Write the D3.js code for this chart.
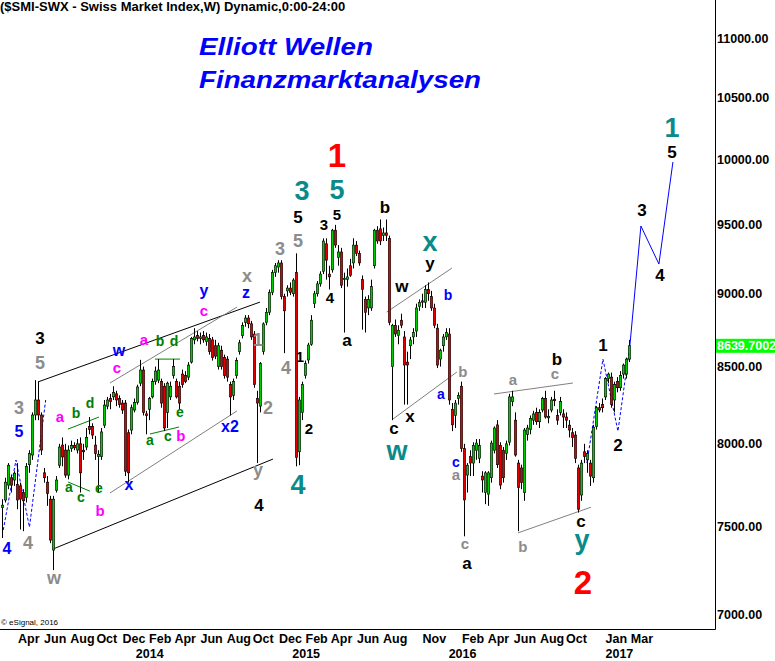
<!DOCTYPE html>
<html><head><meta charset="utf-8">
<script src="https://cdn.jsdelivr.net/npm/d3@7"></script>
<style>
body{margin:0;background:#fff}
svg{display:block}
text{font-family:"Liberation Sans",Arial,Helvetica,sans-serif}
</style>
</head><body>
<svg id="chart" width="775" height="661"></svg>
<script>
// ---------------- DATA ----------------
const firstWeek = "2013-02-25";            // Monday of the first weekly candle
// weekly candles [open, high, low, close]
const ohlc2013 = [
[7610,7660,7430,7624],[7655,7790,7640,7763],[7745,7880,7720,7867],[7790,7810,7700,7745],[7776,7830,7740,7818],
[7750,7880,7600,7655],[7740,7760,7480,7660],[7700,7720,7470,7650],[7670,7880,7640,7860],[7870,7960,7820,7940],
[7930,8200,7900,8183],[8183,8410,8150,8280],[8280,8400,8150,8183],[8183,8200,7930,7961],[7820,7850,7760,7790],
[7763,7800,7620,7695],[7660,7680,7400,7418],[7360,7680,7245,7660],[7714,7800,7700,7776],[7867,8000,7850,7980],
[7992,8040,7860,7918],[7961,8000,7790,7806],[7806,7990,7780,7961],[7970,8020,7950,7990],[7990,8010,7960,7975],
[7961,8030,7940,8000],[8000,8040,7700,7820],[7960,8000,7900,7950],[7980,8100,7960,8040],[8110,8170,8060,8090],
[8110,8130,8030,8055],[7992,8050,7900,7940],[7920,7960,7700,7935],[7920,8100,7900,8075],[8118,8280,8100,8247],
[8240,8300,8220,8280],[8290,8320,8220,8270],[8300,8370,8280,8330],[8320,8340,8240,8280],[8290,8310,8230,8250],
[8260,8280,8190,8215],[8260,8280,7800,7830],[8070,8090,7760,7820],[8087,8250,8060,8230],[8215,8290,8200,8265]
];
const ohlc2014 = [
[8265,8380,8250,8365],[8390,8545,8370,8477],[8477,8500,8180,8200],[8190,8210,8060,8180],[8220,8300,8150,8290],
[8300,8420,8290,8400],[8400,8500,8380,8470],[8410,8550,8390,8477],[8400,8420,8230,8260],[8370,8390,8080,8100],
[8200,8400,8100,8390],[8300,8400,8280,8370],[8440,8550,8420,8500],[8400,8420,8290,8300],[8370,8400,8220,8260],
[8450,8480,8360,8380],[8440,8470,8390,8400],[8430,8530,8410,8510],[8530,8700,8520,8690],[8680,8760,8650,8700],
[8710,8740,8670,8690],[8690,8730,8650,8700],[8710,8740,8660,8680],[8670,8730,8640,8700],[8690,8720,8580,8600],
[8680,8700,8540,8560],[8640,8680,8550,8570],[8500,8660,8480,8640],[8610,8640,8480,8500],[8560,8580,8420,8440],
[8550,8570,8400,8430],[8380,8400,8180,8300],[8310,8420,8280,8400],[8440,8560,8420,8540],[8600,8680,8580,8660],
[8710,8800,8690,8780],[8800,8850,8770,8830],[8830,8850,8760,8790],[8790,8810,8680,8700],[8720,8740,8360,8380],
[8290,8340,7880,8260],[8240,8530,8200,8520],[8600,8800,8580,8790],[8800,8900,8780,8870],[8870,9030,8850,9010],
[9010,9170,8990,9150],[9150,9220,9120,9200],[9190,9240,9150,9220],[9220,9240,8960,8980],[8980,9000,8590,8880],
[9020,9060,8980,9040],[9040,9080,8990,9010]
];
const ohlc2015 = [
[9000,9110,8980,9097],[9150,9290,7860,7915],[7950,8300,7867,8280],[8200,8400,8150,8380],[8440,8540,8420,8520],
[8544,8660,8520,8645],[8650,8850,8640,8815],[8930,9020,8900,9000],[9000,9090,8980,9070],[9070,9160,9050,9140],
[9160,9400,9140,9380],[9360,9400,9100,9240],[9140,9200,9030,9120],[9170,9470,9150,9460],[9460,9500,9330,9350],
[9260,9350,9200,9300],[9300,9330,9040,9060],[9100,9150,8730,9110],[9100,9180,9050,9120],[9200,9250,9120,9130],
[9220,9400,9180,9350],[9350,9380,9270,9290],[9290,9310,9200,9220],[9100,9130,8750,9030],[8960,8980,8730,8870],
[8900,8990,8850,8960],[8900,9100,8880,9050],[9200,9470,9180,9460],[9460,9490,9360,9380],[9470,9540,9350,9380],
[9420,9480,9380,9440],[9440,9540,9380,9420],[9400,9420,8780,8800],[8500,8790,8150,8780],[8780,8820,8700,8720],
[8710,8780,8650,8746],[8815,8860,8760,8780],[8700,8740,8250,8510],[8530,8600,8250,8510],[8640,8700,8550,8680],
[8700,8760,8650,8730],[8740,8930,8700,8900],[8910,8960,8880,8940],[8950,9000,8900,8940],[8940,9060,8900,9030],
[9030,9080,8950,9000],[8980,9020,8880,8900],[8900,8930,8760,8780],[8760,8790,8490,8510],[8550,8620,8500,8610],
[8640,8720,8600,8700],[8700,8760,8680,8730]
];
const ohlc2016 = [
[8720,8760,8250,8280],[8220,8260,8080,8120],[8180,8280,8100,8260],[8290,8330,8250,8310],[8370,8400,7950,7970],
[7970,8000,7440,7655],[7806,7880,7700,7867],[7920,7960,7800,7880],[7880,8010,7800,7990],[7960,8030,7900,8005],
[7910,8030,7880,7990],[7800,7830,7700,7776],[7700,7830,7630,7820],[7690,7830,7620,7820],[7790,8020,7760,8005],
[7960,8110,7940,8100],[8120,8150,7850,7870],[7990,8010,7720,7745],[7960,7980,7760,7790],[7940,8020,7900,8000],
[8010,8320,7990,8300],[8270,8340,8240,8300],[8150,8200,7920,7930],[7880,7900,7470,7730],[7850,7870,7720,7760],
[7700,8100,7650,8087],[8060,8120,8020,8100],[8090,8180,8060,8160],[8150,8210,8120,8190],[8200,8230,8120,8140],
[8140,8220,8100,8200],[8215,8300,8200,8290],[8290,8340,8160,8170],[8165,8220,8130,8175],[8215,8300,8200,8280],
[8285,8340,8240,8275],[8180,8220,8120,8150],[8200,8300,8180,8270],[8190,8220,8100,8170],[8170,8200,8100,8150],
[8118,8150,8040,8087],[8070,8100,7980,8040],[8055,8080,7880,7910],[7850,7870,7580,7600],[7685,7900,7650,7880],
[7950,8000,7880,7920],[7900,7960,7820,7940],[7880,7900,7740,7800],[7790,8120,7760,8105],[8110,8240,8090,8230],
[8230,8260,8200,8215],[8250,8290,8200,8230]
];
const ohlc2017 = [
[8300,8430,8280,8420],[8420,8460,8390,8450],[8430,8460,8230,8250],[8280,8400,8200,8380],[8400,8430,8330,8360],
[8360,8470,8340,8440],[8450,8520,8420,8510],[8450,8560,8420,8550],[8550,8680,8530,8640]
];
const lastPrice = 8639.7002;

const priceTicks = [7000,7500,8000,8500,9000,9500,10000,10500,11000];
const monthTicks = ["2013-04-01","2013-06-01","2013-08-01","2013-10-01","2013-12-01","2014-02-01","2014-04-01","2014-06-01","2014-08-01","2014-10-01","2014-12-01","2015-02-01","2015-04-01","2015-06-01","2015-08-01","2015-11-01","2016-02-01","2016-04-01","2016-06-01","2016-08-01","2016-10-01","2017-01-01","2017-03-01"];
const monthLabels = ["Apr","Jun","Aug","Oct","Dec","Feb","Apr","Jun","Aug","Oct","Dec","Feb","Apr","Jun","Aug","Nov","Feb","Apr","Jun","Aug","Oct","Jan","Mar"];
const yearTicks = ["2014-01-01","2015-01-01","2016-01-01","2017-01-01"];
const yearLabels = ["2014","2015","2016","2017"];

// trend / channel lines: [week1, price1, week2, price2]
const blackLines = [[11.83,8398,85.83,8941],[16.83,7366,90.17,7905]];
const grayLines = [[35.83,8391,78.17,8906],[35.83,7697,78.17,8209],[128.06,8871,149.83,9183],[130.17,8157,151.5,8464],[163.83,8319,190.17,8391],[171.83,7460,196.17,7612]];
const greenLines = [[21.83,8093,32.17,8170],[21.83,7764,29.17,7708],[50.83,8550,59.17,8550],[49.17,8062,58.83,8106]];
// blue wave sketches
const sketchWeeks = [0.27,4.5,9.0,14.4];
const sketchPrices = [7477,7899,7494,8280];
const forecastWeeks = [194.83,200.17,205.17,209.17,212.83,218.83,223.5];
const forecastPrices = [7880,8550,8080,8645,9491,9212,9980];

// wave labels: [week, price, text, degree]
const waveLabels = [
[12.5,8692,"3","minor"],[12.5,8530,"5","minute"],[5.5,8234,"3","minute"],[5.5,8080,"5","minuette"],
[1.5,7372,"4","minuette"],[8.5,7401,"4","minute"],[17.17,7194,"w","minute"],
[19.17,8164,"a","sub"],[24.5,8196,"b","micro"],[29.17,8260,"d","micro"],[22.17,7727,"a","micro"],
[26.17,7667,"c","micro"],[32.17,7721,"e","micro"],[32.5,7594,"b","sub"],[42.17,7739,"x","minuette"],
[38.83,8598,"w","minuette"],[38.17,8484,"c","sub"],[47.17,8672,"a","sub"],[52.5,8672,"b","micro"],
[57.17,8672,"d","micro"],[49.17,8017,"a","micro"],[55.17,8042,"c","micro"],[59.5,8049,"b","sub"],
[59.17,8196,"e","micro"],[67.17,9005,"y","minuette"],[67.17,8871,"c","sub"],[81.5,9119,"x","minute"],
[81.17,8997,"z","minuette"],[85.17,8679,"1","minute"],[94.5,8497,"4","minute"],[88.5,8234,"2","minute"],
[75.83,8112,"x2","minuette"],[85.17,7818,"y","minute"],[85.5,7624,"4","minor"],[98.5,7751,"4","inter"],
[99.17,8564,"1","minorSm"],[102.17,8099,"2","minorSm"],[92.5,9328,"3","minute"],[98.5,9387,"5","minute"],
[98.5,9558,"5","minor"],[99.83,9763,"3","inter"],[111.5,9771,"5","inter"],[111.5,10035,"1","primary"],
[107.17,9498,"3","minorSm"],[111.5,9573,"5","minorSm"],[109.17,8976,"4","minorSm"],[114.83,8672,"a","minor"],
[127.5,9634,"b","minor"],[142.5,9357,"x","inter"],[142.5,9197,"y","minor"],[133.17,9047,"w","minor"],
[148.5,8990,"b","minuetteSm"],[135.83,8170,"x","minor"],[130.5,8093,"c","minor"],[131.5,7942,"w","inter"],
[153.5,8464,"b","minuteSm"],[146.17,8313,"a","minuetteSm"],[151.17,7880,"c","minuetteSm"],[151.17,7800,"a","minuteSm"],
[154.17,7389,"c","minuteSm"],[154.83,7279,"a","minor"],[170.17,8405,"a","minuteSm"],[184.17,8444,"c","minuteSm"],
[184.83,8550,"b","minor"],[173.5,7383,"b","minuteSm"],[192.83,7524,"c","minor"],[193.17,7389,"y","inter"],
[193.5,7177,"2","primary"],[200.17,8645,"1","minor"],[205.17,7992,"2","minor"],[213.17,9611,"3","minor"],
[219.17,9133,"4","minor"],[223.17,10058,"5","minor"],[223.17,10258,"1","inter"]
];

// ---------------- STYLE ----------------
const degreeStyle = {
  primary:{color:"#ff0000",size:33},
  inter:{color:"#0b8a8a",size:27},
  minor:{color:"#000000",size:17},
  minorSm:{color:"#000000",size:15},
  minute:{color:"#8c8c8c",size:18},
  minuteSm:{color:"#8c8c8c",size:15},
  minuette:{color:"#0000ff",size:16},
  minuetteSm:{color:"#0000ff",size:14},
  sub:{color:"#ff00ff",size:15},
  micro:{color:"#008000",size:14}
};
const UP = "#00cc00", DOWN = "#e00000";

// ---------------- CHART ----------------
const svg = d3.select("#chart");
const candles = [...ohlc2013,...ohlc2014,...ohlc2015,...ohlc2016,...ohlc2017];
const t0 = d3.timeParse("%Y-%m-%d")(firstWeek).getTime();
const weekDate = w => new Date(t0 + w*7*864e5);
const parse = d3.timeParse("%Y-%m-%d");

const x = d3.scaleTime().domain([new Date(2013,0,1), new Date(2017,0,1)]).range([-21.1, 605]);
const y = d3.scaleLog().domain([7000, 11000]).range([614, 38]);
const wx = w => x(weekDate(w));

// frame
svg.append("line").attr("x1",715.5).attr("x2",715.5).attr("y1",0).attr("y2",629.5).attr("stroke","#000");
svg.append("line").attr("x1",0).attr("x2",715.5).attr("y1",629.5).attr("y2",629.5).attr("stroke","#000");

// title
svg.append("text").attr("x",0).attr("y",10.5).attr("font-size",13).attr("font-weight","bold")
  .text("($SMI-SWX - Swiss Market Index,W) Dynamic,0:00-24:00");
svg.append("text").attr("x",199).attr("y",55).attr("font-size",24).attr("font-weight","bold")
  .attr("font-style","italic").attr("fill","#0000ff").attr("textLength",174).attr("lengthAdjust","spacingAndGlyphs")
  .text("Elliott Wellen");
svg.append("text").attr("x",199).attr("y",88).attr("font-size",24).attr("font-weight","bold")
  .attr("font-style","italic").attr("fill","#0000ff").attr("textLength",282).attr("lengthAdjust","spacingAndGlyphs")
  .text("Finanzmarktanalysen");
svg.append("text").attr("x",1).attr("y",625).attr("font-size",8).text("\u00a9 eSignal, 2016");

// lines
const lineGroup = svg.append("g");
function drawSegs(rows, color){
  lineGroup.selectAll(null).data(rows).enter().append("line")
    .attr("x1",d=>wx(d[0])).attr("y1",d=>y(d[1])).attr("x2",d=>wx(d[2])).attr("y2",d=>y(d[3]))
    .attr("stroke",color).attr("stroke-width",1);
}
drawSegs(blackLines,"#000");
drawSegs(grayLines,"#808080");
drawSegs(greenLines,"#008000");

const lineGen = d3.line().x(d=>wx(d[0])).y(d=>y(d[1]));
lineGroup.append("path").datum(sketchWeeks.map((w,i)=>[w,sketchPrices[i]]))
  .attr("d",lineGen).attr("fill","none").attr("stroke","#0000ff").attr("stroke-dasharray","3,2");
const fc = forecastWeeks.map((w,i)=>[w,forecastPrices[i]]);
lineGroup.append("path").datum(fc.slice(0,4)).attr("d",lineGen).attr("fill","none")
  .attr("stroke","#0000ff").attr("stroke-dasharray","3,2");
lineGroup.append("path").datum(fc.slice(3)).attr("d",lineGen).attr("fill","none").attr("stroke","#0000ff");

// candles
const cg = svg.append("g");
const cs = cg.selectAll("g").data(candles).enter().append("g");
cs.append("line")
  .attr("x1",(d,i)=>Math.round(wx(i))+0.5).attr("x2",(d,i)=>Math.round(wx(i))+0.5)
  .attr("y1",d=>y(d[1])).attr("y2",d=>y(d[2])).attr("stroke","#000").attr("stroke-width",1);
cs.append("rect")
  .attr("x",(d,i)=>Math.round(wx(i))-0.7).attr("width",2.4)
  .attr("y",d=>y(Math.max(d[0],d[3])))
  .attr("height",d=>Math.max(1,Math.abs(y(d[0])-y(d[3]))))
  .attr("fill",d=>d[3]>=d[0]?UP:DOWN).attr("stroke","#000").attr("stroke-width",0.6);

// right axis
const yAxis = d3.axisRight(y).tickValues(priceTicks).tickFormat(d3.format(".2f")).tickSize(0).tickPadding(2);
const ya = svg.append("g").attr("transform","translate(715,0)").call(yAxis);
ya.select(".domain").remove();
ya.selectAll("text").attr("font-size",12.5).attr("font-weight","bold")
  .attr("font-family",'"Liberation Sans",Arial,sans-serif').attr("fill","#000");

// last price marker
svg.append("rect").attr("x",716).attr("y",y(lastPrice)-7).attr("width",59).attr("height",14).attr("fill","#00ff00");
svg.append("text").attr("x",717).attr("y",y(lastPrice)).attr("dy","0.36em").attr("font-size",12.5)
  .attr("font-weight","bold").attr("fill","#fff").text(d3.format(".4f")(lastPrice));

// bottom axis: months and years
const xAxisM = d3.axisBottom(x).tickValues(monthTicks.map(parse)).tickFormat((d,i)=>monthLabels[i]).tickSize(0).tickPadding(5);
const xm = svg.append("g").attr("transform","translate(0,629)").call(xAxisM);
xm.select(".domain").remove();
xm.selectAll("text").attr("text-anchor","start").attr("font-size",12.5).attr("font-weight","bold")
  .attr("font-family",'"Liberation Sans",Arial,sans-serif').attr("fill","#000");
const xAxisY = d3.axisBottom(x).tickValues(yearTicks.map(parse)).tickFormat((d,i)=>yearLabels[i]).tickSize(0).tickPadding(20);
const xy = svg.append("g").attr("transform","translate(0,629)").call(xAxisY);
xy.select(".domain").remove();
xy.selectAll("text").attr("text-anchor","start").attr("font-size",12.5).attr("font-weight","bold")
  .attr("font-family",'"Liberation Sans",Arial,sans-serif').attr("fill","#000");

// wave labels
const dyFor = t => /^[acemnorsuvwxz]+$/.test(t) ? "0.27em" : (t==="y" ? "0.16em" : "0.36em");
svg.append("g").selectAll("text").data(waveLabels).enter().append("text")
  .attr("x",d=>wx(d[0])).attr("y",d=>y(d[1])).attr("dy",d=>dyFor(d[2]))
  .attr("text-anchor","middle").attr("font-weight","bold")
  .attr("font-size",d=>degreeStyle[d[3]].size).attr("fill",d=>degreeStyle[d[3]].color)
  .text(d=>d[2]);
</script>
</body></html>
